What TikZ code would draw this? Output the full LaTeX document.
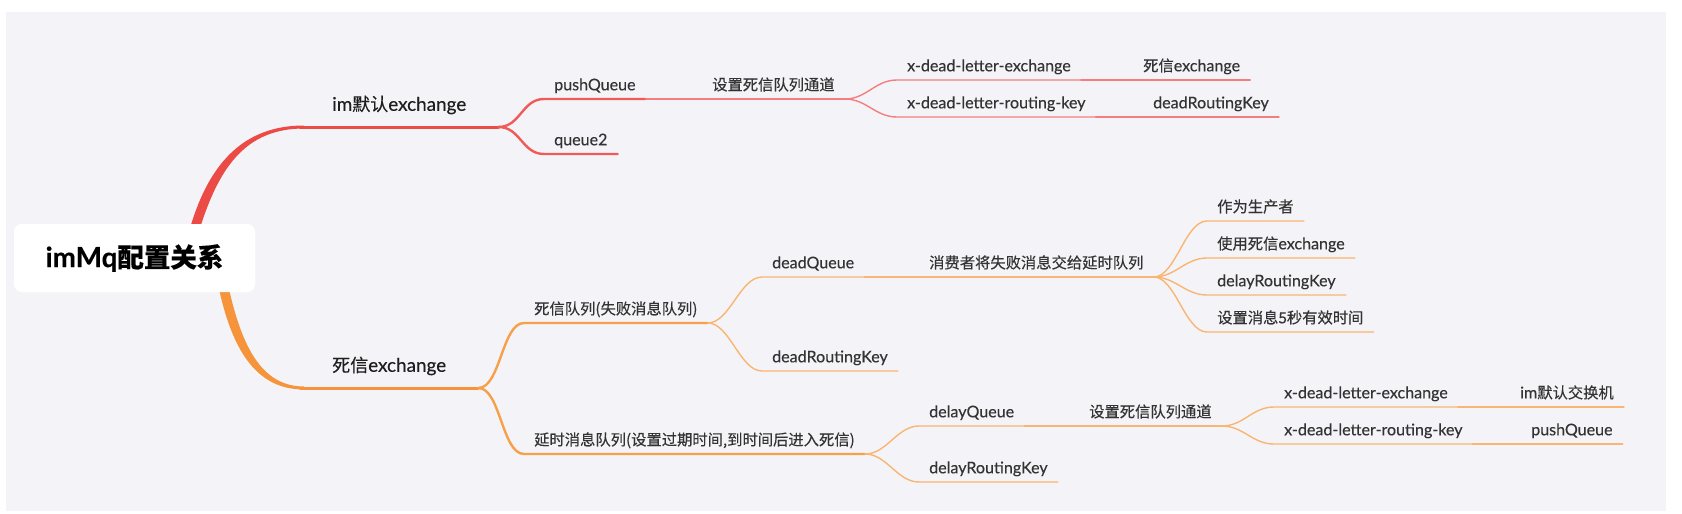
\documentclass[tikz,border=0pt]{standalone}
\usepackage{fontspec}
\setmainfont{Lato}[Scale=1.05,FakeBold=0.25]
\newfontfamily\cjk{Noto Sans CJK SC}[FakeBold=0.25]
\usetikzlibrary{calc}

\definecolor{paper}{HTML}{F4F4F8}
\definecolor{ink}{HTML}{333333}
\definecolor{inkdark}{HTML}{1E1E1E}
\definecolor{redA}{HTML}{EC4A45}
\definecolor{redB}{HTML}{F05A58}
\definecolor{redC}{HTML}{F47E7E}
\definecolor{orgA}{HTML}{F5943A}
\definecolor{orgB}{HTML}{F7A04A}
\definecolor{orgC}{HTML}{F9B572}

\tikzset{
  topic/.style={anchor=south west,inner xsep=10pt,inner ysep=0pt,text height=11pt,text depth=8.5pt,
    text=ink,font=\fontsize{15.3}{18}\selectfont},
  main/.style={topic,inner xsep=32pt,text depth=16pt,text=inkdark,font=\fontsize{18}{21}\selectfont},
  rootbox/.style={fill=white,rounded corners=8pt,minimum width=241pt,minimum height=68pt,
    text=black,font=\fontsize{26.5}{30}\selectfont\bfseries},
  r1/.style={draw=redA,line width=3pt},
  r2/.style={draw=redB,line width=2.4pt},
  r3/.style={draw=redC,line width=1.4pt},
  o1/.style={draw=orgA,line width=3pt},
  o2/.style={draw=orgB,line width=2.4pt},
  o3/.style={draw=orgC,line width=1.4pt}
}
% connector from parent to child, then the child's underline
\newcommand\twig[3]{\draw[#1] (#2.south east) .. controls +(22,0) and +(-22,0) .. (#3.south west) -- (#3.south east);}

\begin{document}
\begin{tikzpicture}[x=1pt,y=-1pt,line cap=round]
\useasboundingbox (0,0) rectangle (1682,514);
\fill[white] (0,0) rectangle (1682,514);
\fill[paper] (6,12) rectangle (1666,511);

\node[rootbox] (root) at (134.5,258) {};
\node[main] (ex1) at (300,127) {im{\cjk 默认}exchange};
\node[main] (ex2) at (300,388) {{\cjk 死信}exchange};

% im default exchange
\node[topic] (pq) at (544,99) {pushQueue};
\node[topic] (q2) at (544,154) {queue2};
\node[topic] (ch1) at (702,99) {\cjk 设置死信队列通道};
\node[topic] (xe1) at (897,80) {x-dead-letter-exchange};
\node[topic] (xr1) at (897,117) {x-dead-letter-routing-key};
\node[topic] (dx1) at (1133,80) {{\cjk 死信}exchange};
\node[topic] (dk1) at (1143,117) {deadRoutingKey};

% dead letter exchange
\node[topic] (dq) at (524,323) {\cjk 死信队列(失败消息队列)};
\node[topic] (yq) at (524,454) {\cjk 延时消息队列(设置过期时间,到时间后进入死信)};
\node[topic] (dQ) at (762,277) {deadQueue};
\node[topic] (dK) at (762,371) {deadRoutingKey};
\node[topic] (cs) at (919,277) {\cjk 消费者将失败消息交给延时队列};
\node[topic] (p1) at (1207,221) {\cjk 作为生产者};
\node[topic] (p2) at (1207,258) {{\cjk 使用死信}exchange};
\node[topic] (p3) at (1207,295) {delayRoutingKey};
\node[topic] (p4) at (1207,332) {\cjk 设置消息5秒有效时间};
\node[topic] (lQ) at (919,426) {delayQueue};
\node[topic] (lK) at (919,482) {delayRoutingKey};
\node[topic] (ch2) at (1079,426) {\cjk 设置死信队列通道};
\node[topic] (xe2) at (1274,407) {x-dead-letter-exchange};
\node[topic] (xr2) at (1274,444) {x-dead-letter-routing-key};
\node[topic] (im2) at (1510,407) {im{\cjk 默认交换机}};
\node[topic] (pq2) at (1521,444) {pushQueue};

% tapered main branches
\fill[redA] ($(root.north)+(56.5,1)$) .. controls +(19,-62) and +(-60,0) .. ($(ex1.south west)+(4,-1.5)$)
  -- ++(0,3) .. controls +(-58,0) and +(19,-58) .. ($(root.north)+(66.5,1)$) -- cycle;
\fill[orgA] ($(root.south)+(85,-1)$) .. controls +(14,62) and +(-46,0) .. ($(ex2.south west)+(4,1.5)$)
  -- ++(0,-3) .. controls +(-42,0) and +(13,56) .. ($(root.south)+(95,-1)$) -- cycle;
\draw[r1] (ex1.south west) -- (ex1.south east);
\draw[o1] (ex2.south west) -- (ex2.south east);
\node[rootbox] at (root) {imMq{\cjk 配置关系}};

\twig{r2}{ex1}{pq}
\twig{r2}{ex1}{q2}
\twig{r3}{pq}{ch1}
\twig{r3}{ch1}{xe1}
\twig{r3}{ch1}{xr1}
\twig{r3}{xe1}{dx1}
\twig{r3}{xr1}{dk1}

\twig{o2}{ex2}{dq}
\twig{o2}{ex2}{yq}
\twig{o3}{dq}{dQ}
\twig{o3}{dq}{dK}
\twig{o3}{dQ}{cs}
\foreach \p in {p1,p2,p3,p4} {\twig{o3}{cs}{\p}}
\twig{o3}{yq}{lQ}
\twig{o3}{yq}{lK}
\twig{o3}{lQ}{ch2}
\twig{o3}{ch2}{xe2}
\twig{o3}{ch2}{xr2}
\twig{o3}{xe2}{im2}
\twig{o3}{xr2}{pq2}
\end{tikzpicture}
\end{document}
